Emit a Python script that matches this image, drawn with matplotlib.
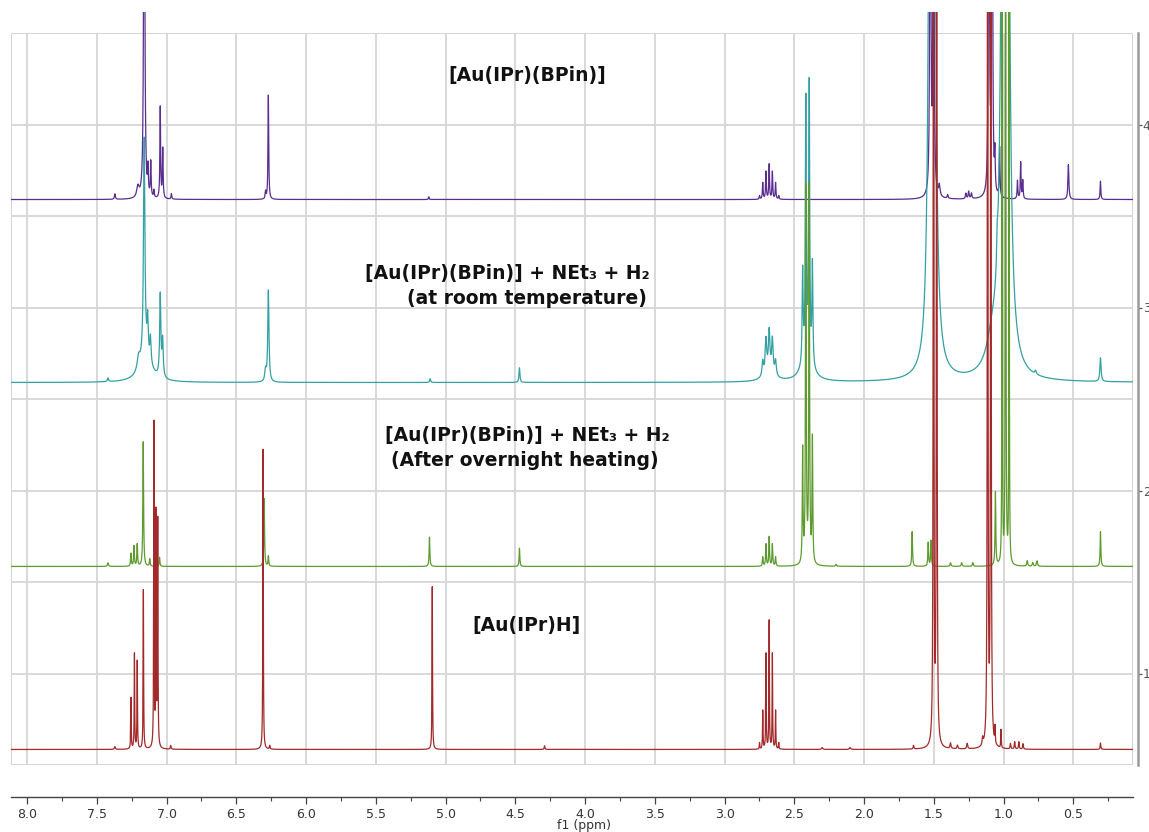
import numpy as np
import matplotlib
matplotlib.use("Agg")
import matplotlib.pyplot as plt
from matplotlib.patches import Rectangle
from matplotlib.transforms import Bbox, TransformedBbox
from matplotlib.ticker import MultipleLocator, FormatStrFormatter

# ---------------- data: peak lists (ppm, height, half-width) ----------------
# [Au(IPr)(BPin)]
purple_ppm = [7.37, 7.205, 7.16, 7.133, 7.113, 7.09, 7.045, 7.027, 6.965, 6.29, 6.27, 5.12,
              2.749, 2.726, 2.703, 2.68, 2.657, 2.634, 2.611,
              1.525, 1.502, 1.46, 1.40, 1.27, 1.25, 1.23, 1.105, 1.082, 1.062, 1.028,
              0.90, 0.877, 0.862, 0.535, 0.305]
purple_h = [0.03, 0.06, 3.0, 0.14, 0.19, 0.04, 0.5, 0.27, 0.03, 0.04, 0.57, 0.015,
            0.02, 0.09, 0.15, 0.19, 0.15, 0.09, 0.02,
            4.0, 4.0, 0.06, 0.02, 0.03, 0.04, 0.03, 4.0, 4.0, 0.2, 0.27,
            0.1, 0.2, 0.1, 0.19, 0.1]
purple_w = [0.004, 0.01, 0.004, 0.003, 0.003, 0.003, 0.003, 0.003, 0.003, 0.003, 0.003, 0.003,
            0.003, 0.003, 0.003, 0.003, 0.003, 0.003, 0.003,
            0.003, 0.003, 0.006, 0.004, 0.004, 0.004, 0.004, 0.003, 0.003, 0.003, 0.003,
            0.003, 0.003, 0.003, 0.004, 0.003]

# [Au(IPr)(BPin)] + NEt3 + H2 (room temperature)
teal_ppm = [7.42, 7.15, 7.20, 7.16, 7.135, 7.115, 7.045, 7.028, 6.29, 6.27, 5.11, 4.47,
            2.68, 2.726, 2.703, 2.68, 2.657, 2.634,
            2.41, 2.44, 2.417, 2.393, 2.37,
            1.525, 1.50, 1.08, 1.045, 1.00, 0.975, 0.77, 0.305]
teal_h = [0.02, 0.13, 0.07, 1.2, 0.2, 0.14, 0.45, 0.2, 0.06, 0.5, 0.02, 0.08,
          0.06, 0.08, 0.18, 0.21, 0.18, 0.08,
          0.12, 0.5, 1.4, 1.5, 0.55,
          4.0, 4.0, 0.15, 0.15, 5.0, 5.0, 0.02, 0.13]
teal_w = [0.005, 0.05, 0.012, 0.006, 0.005, 0.005, 0.005, 0.005, 0.006, 0.005, 0.004, 0.004,
          0.04, 0.006, 0.006, 0.006, 0.006, 0.006,
          0.045, 0.004, 0.004, 0.004, 0.004,
          0.0126, 0.0126, 0.05, 0.005, 0.014, 0.014, 0.006, 0.005]

# [Au(IPr)(BPin)] + NEt3 + H2 (after overnight heating)
green_ppm = [7.42, 7.255, 7.233, 7.21, 7.167, 7.12, 7.05, 6.30, 6.27, 5.115, 4.47,
             2.726, 2.703, 2.68, 2.657, 2.634,
             2.44, 2.417, 2.393, 2.37, 2.20,
             1.655, 1.54, 1.52, 1.38, 1.30, 1.22, 1.058, 1.01, 0.985, 0.96,
             0.83, 0.79, 0.76, 0.305]
green_h = [0.02, 0.07, 0.11, 0.12, 0.68, 0.04, 0.05, 0.37, 0.055, 0.16, 0.1,
           0.05, 0.12, 0.16, 0.12, 0.05,
           0.62, 2.05, 2.05, 0.68, 0.01,
           0.19, 0.13, 0.14, 0.02, 0.02, 0.02, 0.4, 4.0, 8.0, 4.0,
           0.03, 0.02, 0.03, 0.19]
green_w = [0.004, 0.003, 0.003, 0.003, 0.003, 0.003, 0.003, 0.003, 0.003, 0.003, 0.003,
           0.003, 0.003, 0.003, 0.003, 0.003,
           0.003, 0.003, 0.003, 0.003, 0.004,
           0.003, 0.003, 0.003, 0.004, 0.004, 0.004, 0.003, 0.0015, 0.0015, 0.0015,
           0.004, 0.004, 0.004, 0.003]

# [Au(IPr)H]
red_ppm = [7.37, 7.255, 7.23, 7.21, 7.166, 7.09, 7.075, 7.063, 6.97, 6.308, 6.26, 5.095, 4.29,
           2.749, 2.726, 2.703, 2.68, 2.657, 2.634, 2.611, 2.30, 2.10,
           1.645, 1.502, 1.479, 1.38, 1.33, 1.26, 1.15, 1.114, 1.091, 1.061, 1.018,
           0.95, 0.92, 0.89, 0.86, 0.305]
red_h = [0.015, 0.28, 0.52, 0.48, 0.87, 1.77, 1.26, 1.23, 0.02, 1.64, 0.02, 0.89, 0.02,
         0.035, 0.21, 0.52, 0.70, 0.52, 0.21, 0.035, 0.01, 0.01,
         0.02, 8.0, 8.0, 0.03, 0.02, 0.03, 0.04, 8.0, 8.0, 0.09, 0.1,
         0.03, 0.04, 0.04, 0.03, 0.035]
red_w = [0.004, 0.002, 0.002, 0.002, 0.002, 0.002, 0.002, 0.002, 0.003, 0.002, 0.003, 0.002, 0.003,
         0.002, 0.002, 0.002, 0.002, 0.002, 0.002, 0.002, 0.005, 0.005,
         0.003, 0.002, 0.002, 0.004, 0.004, 0.004, 0.004, 0.002, 0.002, 0.002, 0.002,
         0.003, 0.003, 0.003, 0.003, 0.003]

baselines = {"purple": 3.59, "teal": 2.59, "green": 1.585, "red": 0.585}
labels = ["[Au(IPr)(BPin)]",
          "[Au(IPr)(BPin)] + NEt\u2083 + H\u2082", "(at room temperature)",
          "[Au(IPr)(BPin)] + NEt\u2083 + H\u2082", "(After overnight heating)",
          "[Au(IPr)H]"]
xticks = [8.0, 7.5, 7.0, 6.5, 6.0, 5.5, 5.0, 4.5, 4.0, 3.5, 3.0, 2.5, 2.0, 1.5, 1.0, 0.5]
yticks = [1, 2, 3, 4]

# ---------------- figure ----------------
W, H = 1149, 832
fig = plt.figure(figsize=(W / 100, H / 100), dpi=100)
L, R, T, B = 11, 1133, 33, 765
ax = fig.add_axes([L / W, 1 - B / H, (R - L) / W, (B - T) / H])

XMIN, XMAX = 0.072, 8.115
YMIN, YMAX = 0.5, 4.5
CLIP_TOP = 4.615

ppm = np.arange(XMIN, XMAX, 0.0002)


def spectrum(pos, hts, wds, base):
    y = np.full_like(ppm, base)
    for p, h, w in zip(pos, hts, wds):
        y += h * w ** 2 / (w ** 2 + (ppm - p) ** 2)
    return y


colors = {"purple": "#5a2d8f", "teal": "#33a0a4", "green": "#5e9b2e", "red": "#a32a2a"}
series = [("purple", purple_ppm, purple_h, purple_w),
          ("teal", teal_ppm, teal_h, teal_w),
          ("green", green_ppm, green_h, green_w),
          ("red", red_ppm, red_h, red_w)]

clipbox = TransformedBbox(Bbox([[0, 0], [1, (CLIP_TOP - YMIN) / (YMAX - YMIN)]]), ax.transAxes)
for i, (name, pos, hts, wds) in enumerate(series):
    y = spectrum(pos, hts, wds, baselines[name])
    ln, = ax.plot(ppm, y, color=colors[name], lw=0.9, zorder=3 + i)
    ln.set_clip_box(clipbox)

ax.set_xlim(XMAX, XMIN)
ax.set_ylim(YMIN, YMAX)

# grid / frame
gcol = "#d6d6d6"
ax.set_xticks(xticks)
ax.xaxis.set_minor_locator(MultipleLocator(0.25))
ax.xaxis.set_major_formatter(FormatStrFormatter("%.1f"))
ax.grid(which="major", axis="x", color=gcol, lw=1.3, zorder=0)
ax.yaxis.tick_right()
ax.set_yticks(yticks)
ax.yaxis.set_minor_locator(MultipleLocator(0.5))
ax.grid(which="both", axis="y", color=gcol, lw=1.3, zorder=0)
ax.add_patch(Rectangle((0, 0), 1, 1, transform=ax.transAxes, fill=False,
                       ec="#cfcfcf", lw=1.3, zorder=1))

for s in ["left", "top"]:
    ax.spines[s].set_visible(False)
ax.spines["bottom"].set_position(("outward", 23))
ax.spines["bottom"].set_color("#444444")
ax.spines["bottom"].set_linewidth(1.0)
ax.spines["right"].set_position(("outward", 3.5))
ax.spines["right"].set_color("#9a9a9a")
ax.spines["right"].set_linewidth(1.8)

ax.tick_params(axis="x", which="major", direction="out", length=5, width=0.9,
               colors="#444444", labelsize=9, pad=3, labelcolor="#333333")
ax.tick_params(axis="x", which="minor", direction="out", length=3, width=0.8, colors="#444444")
ax.tick_params(axis="y", which="major", right=True, direction="out", length=3, width=0.9,
               colors="#555555", labelsize=9, pad=0.5)
ax.tick_params(axis="y", which="minor", right=False, length=0)
ax.set_xlabel("f1 (ppm)", fontsize=9, color="#333333")
ax.xaxis.set_label_coords(0.511, -0.074)

# spectrum titles
pos_px = [(527, 75), (507, 273), (527, 299), (527, 436), (525, 461), (526, 625)]
for txt, (px, py) in zip(labels, pos_px):
    fig.text(px / W, 1 - py / H, txt, ha="center", va="center",
             fontsize=13.5, fontweight="bold", color="#111111")

fig.savefig("out.png", dpi=100)
